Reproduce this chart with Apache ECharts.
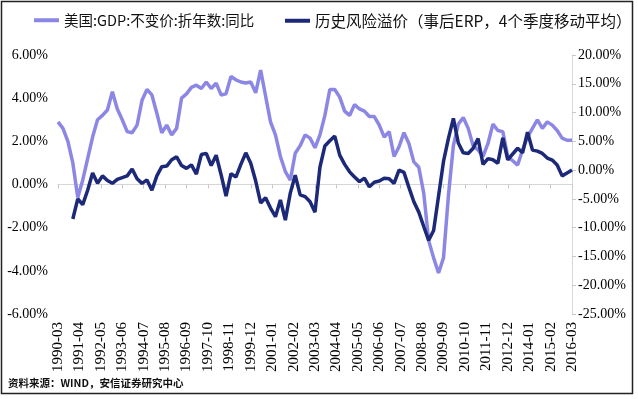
<!DOCTYPE html>
<html>
<head>
<meta charset="utf-8">
<script src="https://cdn.jsdelivr.net/npm/echarts@6/dist/echarts.min.js"></script>
<style>
  html, body { margin: 0; padding: 0; background: #fff; }
  #chart { width: 638px; height: 399px; }
</style>
</head>
<body>
<div id="chart"></div>
<script>
// quarterly values, 1990-03 .. 2016-03 (105 quarters)
var gdpYoy = [
  2.9, 2.6, 2.0, 1.0, -0.6, 0.2, 1.2, 2.2, 3.0, 3.2,
  3.45, 4.3, 3.5, 3.0, 2.45, 2.4, 2.75, 3.9, 4.4, 4.15,
  3.3, 2.4, 2.75, 2.3, 2.6, 4.0, 4.2, 4.5, 4.6, 4.45,
  4.75, 4.45, 4.7, 4.15, 4.2, 5.0, 4.85, 4.75, 4.7, 4.75,
  4.25, 5.3, 4.1, 2.9, 2.3, 1.3, 0.6, 0.2, 1.45, 1.8,
  2.3, 2.15, 1.7, 2.3, 3.2, 4.4, 4.4, 4.05, 3.4, 3.2,
  3.7, 3.5, 3.4, 3.15, 3.15, 2.75, 2.2, 2.45, 1.3, 1.75,
  2.4, 1.9, 1.05, 0.8, -0.4, -2.6, -3.4, -4.1, -3.4, -0.5,
  1.8, 2.8, 3.1, 2.6, 1.8, 1.6, 1.3, 1.9, 2.8, 2.5,
  2.45, 1.3, 1.1, 0.9, 1.6, 2.2, 2.6, 3.0, 2.6, 2.9,
  2.75, 2.5, 2.15, 2.05, 2.05
];
var erp = [
  null, null, null, -8.5, -5.0, -6.0, -3.5, -0.5, -2.3, -1.0,
  -1.8, -2.3, -1.6, -1.3, -1.0, 0.2, -1.5, -2.3, -1.7, -3.5,
  -1.0, 0.6, 0.7, 1.8, 2.3, 0.8, 0.3, 0.9, -0.7, 2.7,
  2.9, 0.8, 2.6, -0.8, -4.5, -0.6, -1.2, 1.0, 3.0, 1.2,
  -1.9, -5.7, -4.8, -6.6, -8.1, -5.2, -8.7, -4.0, -0.9, -4.3,
  -4.6, -5.5, -7.3, 0.5, 4.2, 5.1, 5.9, 2.6, 1.0, -0.3,
  -1.2, -2.0, -1.4, -2.9, -2.1, -1.9, -1.4, -1.5, -2.3, 0.0,
  -0.4, -3.0, -5.5, -7.3, -9.8, -12.2, -10.5, -4.5, 1.5, 5.5,
  9.0, 4.7, 3.0, 2.9, 3.8, 5.5, 1.0, 2.0, 1.8, 1.2,
  5.6, 1.8, 2.8, 3.8, 3.0, 6.6, 3.5, 3.3, 2.9, 2.1,
  1.75, 0.9, -1.0, -0.5, 0.0
];
var seriesNames = ['美国:GDP:不变价:折年数:同比', '历史风险溢价（事后ERP，4个季度移动平均）'];

// monthly category axis
var months = [];
for (var y = 1990; y <= 2016; y++) {
  for (var m = 1; m <= 12; m++) {
    if ((y === 1990 && m < 3) || (y === 2016 && m > 3)) continue;
    months.push(y + '-' + (m < 10 ? '0' + m : m));
  }
}

function toMonthly(q) {
  var out = [];
  for (var i = 0; i < months.length; i++) {
    out.push(i % 3 === 0 ? q[i / 3] : null);
  }
  return out;
}

var serif = 'Liberation Serif';
var cjk = 'Noto Sans CJK SC';
var labelFmt = function (v) { return v.toFixed(2) + '%'; };

var chart = echarts.init(document.getElementById('chart'));
chart.setOption({
  animation: false,
  backgroundColor: '#fff',
  legend: [
    {
      left: 29,
      top: 8,
      icon: 'rect',
      itemWidth: 25,
      itemHeight: 4,
      textStyle: { fontFamily: cjk, fontSize: 14.5, color: '#111' },
      data: [seriesNames[0]]
    },
    {
      left: 280,
      top: 8,
      icon: 'rect',
      itemWidth: 25,
      itemHeight: 4,
      textStyle: { fontFamily: cjk, fontSize: 15.5, color: '#111' },
      data: [seriesNames[1]]
    }
  ],
  grid: { left: 58, right: 66, top: 55, bottom: 85 },
  xAxis: [
    {
      type: 'category',
      data: months,
      boundaryGap: false,
      position: 'bottom',
      axisLine: { show: false, onZero: false },
      axisTick: { show: false },
      axisLabel: {
        interval: 12,
        rotate: 90,
        margin: 8,
        fontFamily: serif,
        fontSize: 15,
        color: '#000'
      }
    },
    {
      type: 'category',
      data: months,
      boundaryGap: false,
      position: 'bottom',
      axisLine: { show: true, onZero: true, onZeroAxisIndex: 0, lineStyle: { color: '#d6d6d6', width: 1 } },
      axisTick: { show: true, interval: 12, length: 4, lineStyle: { color: '#c8c8c8' } },
      axisLabel: { show: false }
    }
  ],
  yAxis: [
    {
      type: 'value',
      min: -6,
      max: 6,
      interval: 2,
      axisLine: { show: false },
      axisTick: { show: false },
      splitLine: { show: false },
      axisLabel: { margin: 10, fontFamily: serif, fontSize: 14, color: '#000', formatter: labelFmt }
    },
    {
      type: 'value',
      min: -25,
      max: 20,
      interval: 5,
      position: 'right',
      axisLine: { show: true, lineStyle: { color: '#d6d6d6', width: 1 } },
      axisTick: { show: true, length: 4, lineStyle: { color: '#c8c8c8' } },
      splitLine: { show: false },
      axisLabel: { margin: 6, fontFamily: serif, fontSize: 14, color: '#000', formatter: labelFmt }
    }
  ],
  series: [
    {
      name: seriesNames[0],
      type: 'line',
      xAxisIndex: 0,
      yAxisIndex: 0,
      data: toMonthly(gdpYoy),
      connectNulls: true,
      symbol: 'none',
      color: '#8c87e4',
      lineStyle: { width: 3.5, color: '#8c87e4' }
    },
    {
      name: seriesNames[1],
      type: 'line',
      xAxisIndex: 0,
      yAxisIndex: 1,
      data: toMonthly(erp),
      connectNulls: true,
      symbol: 'none',
      color: '#1c2878',
      lineStyle: { width: 3.5, color: '#1c2878' }
    }
  ],
  graphic: [
    {
      type: 'rect',
      shape: { x: 1.5, y: 1.5, width: 631, height: 392 },
      style: { fill: 'none', stroke: '#222', lineWidth: 1.5 },
      silent: true
    },
    {
      type: 'text',
      left: 8,
      top: 378,
      style: {
        text: '资料来源：WIND，安信证券研究中心',
        fontFamily: cjk,
        fontSize: 10.5,
        fontWeight: 'bold',
        fill: '#111'
      }
    }
  ]
});
</script>
</body>
</html>
